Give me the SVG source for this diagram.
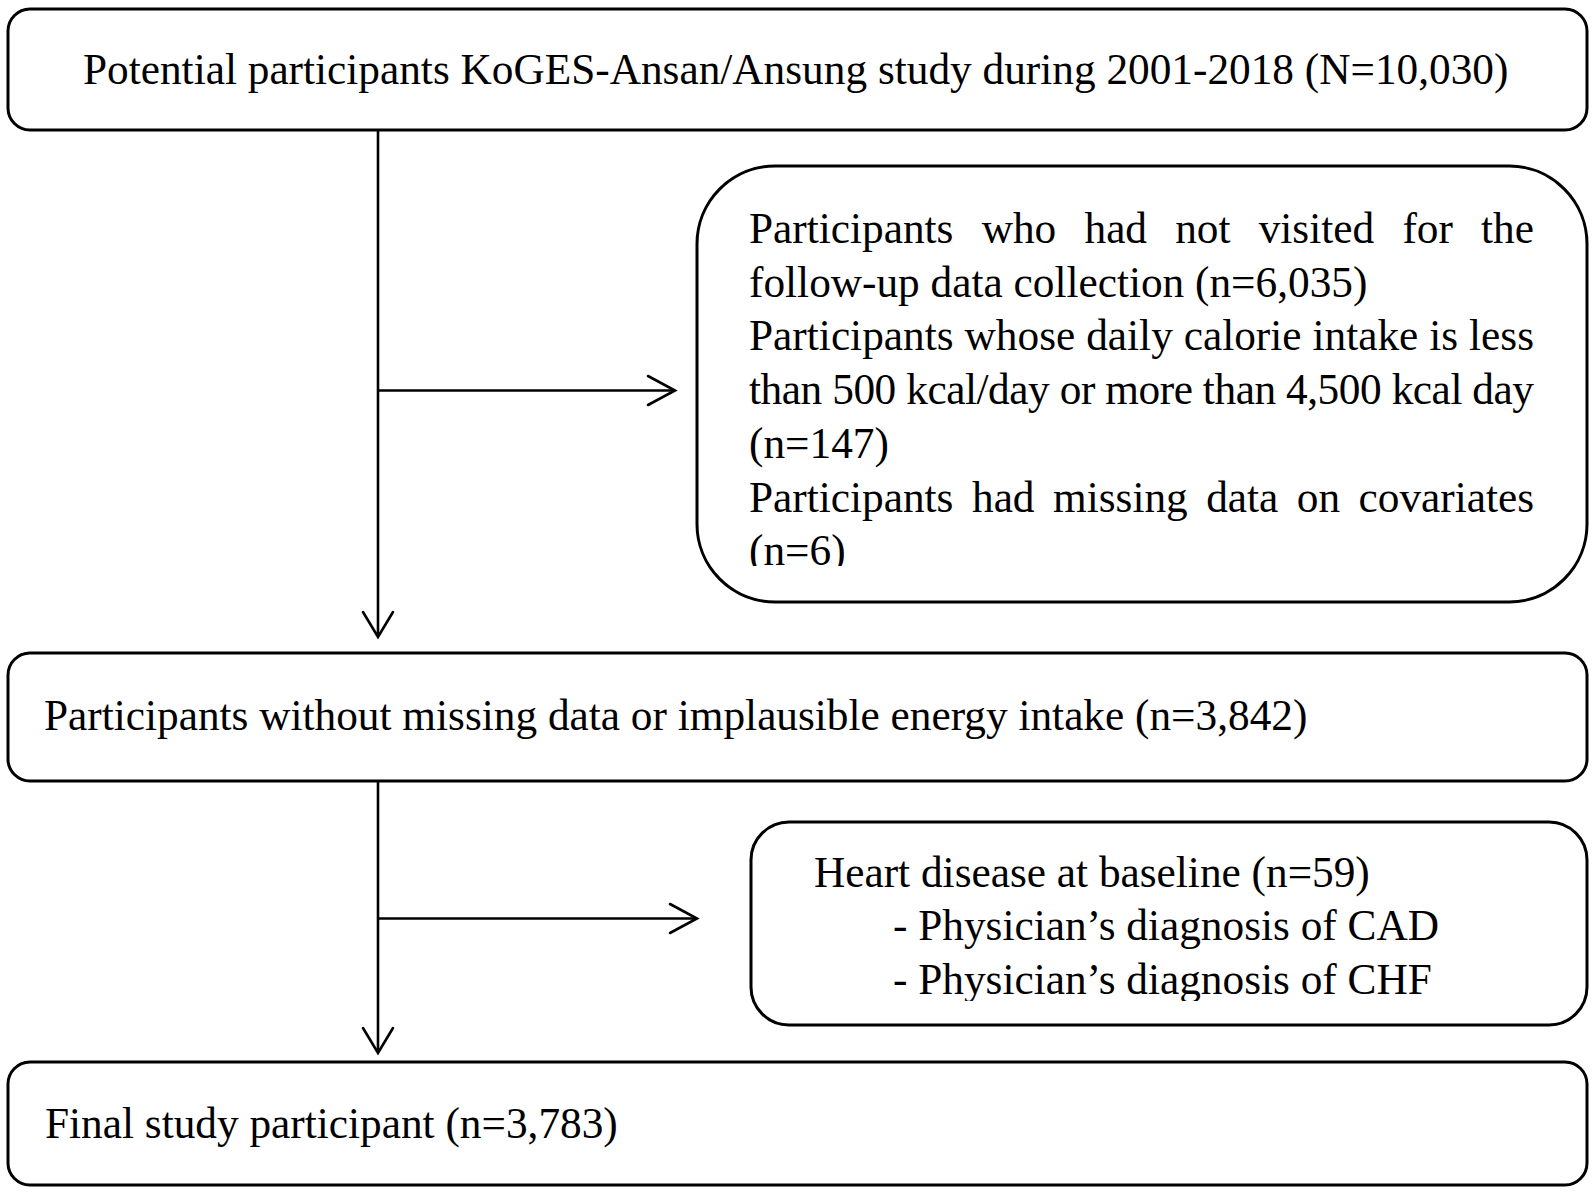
<svg xmlns="http://www.w3.org/2000/svg" width="1595" height="1195" viewBox="0 0 1595 1195">
<style>
.box{fill:#fff;stroke:#000;stroke-width:3}
.t{font-family:"Liberation Serif","Times New Roman",serif;font-size:43.3px;fill:#000}
.ln{stroke:#000;stroke-width:2.6;fill:none}
.ah{stroke:#000;stroke-width:2.6;fill:none;stroke-linecap:round;stroke-linejoin:miter}
</style>
<defs>
<clipPath id="c1"><rect x="690" y="160" width="900" height="406"/></clipPath>
<clipPath id="c2"><rect x="745" y="815" width="845" height="186"/></clipPath>
</defs>
<rect width="1595" height="1195" fill="#fff"/>
<g id="connectors">
<line class="ln" x1="378" y1="130" x2="378" y2="636"/>
<polyline class="ah" points="363,612 378,637 393,612"/>
<line class="ln" x1="378" y1="390.5" x2="675" y2="390.5"/>
<polyline class="ah" points="648,376 675,390.5 648,405"/>
<line class="ln" x1="378" y1="781" x2="378" y2="1052"/>
<polyline class="ah" points="363,1028 378,1053 393,1028"/>
<line class="ln" x1="378" y1="918.5" x2="697" y2="918.5"/>
<polyline class="ah" points="670,904 697,918.5 670,933"/>
</g>
<g id="n1">
<rect class="box" x="8" y="9" width="1579" height="121" rx="22"/>
<text class="t" x="83" y="84">Potential participants KoGES-Ansan/Ansung study during 2001-2018 (N=10,030)</text>
</g>
<g id="n2">
<rect class="box" x="697" y="166" width="890" height="436" rx="78"/>
<g clip-path="url(#c1)">
<text class="t" y="243"><tspan x="749">Participants</tspan><tspan x="981.7">who</tspan><tspan x="1084.5">had</tspan><tspan x="1175.2">not</tspan><tspan x="1258.7">visited</tspan><tspan x="1402.4">for</tspan><tspan x="1481.1">the</tspan></text>
<text class="t" x="749" y="297">follow-up data collection (n=6,035)</text>
<text class="t" x="749" y="350" textLength="785" lengthAdjust="spacing">Participants whose daily calorie intake is less</text>
<text class="t" x="749" y="404" textLength="785" lengthAdjust="spacing">than 500 kcal/day or more than 4,500 kcal day</text>
<text class="t" x="749" y="458">(n=147)</text>
<text class="t" y="511.5"><tspan x="749">Participants</tspan><tspan x="972">had</tspan><tspan x="1053">missing</tspan><tspan x="1206.2">data</tspan><tspan x="1296.8">on</tspan><tspan x="1358.6">covariates</tspan></text>
<text class="t" x="749" y="565">(n=6)</text>
</g>
</g>
<g id="n3">
<rect class="box" x="8" y="653" width="1579" height="128" rx="22"/>
<text class="t" x="44" y="730">Participants without missing data or implausible energy intake (n=3,842)</text>
</g>
<g id="n4">
<rect class="box" x="751" y="822" width="836" height="203" rx="38"/>
<g clip-path="url(#c2)">
<text class="t" x="814" y="887">Heart disease at baseline (n=59)</text>
<text class="t" x="893" y="940">- Physician’s diagnosis of CAD</text>
<text class="t" x="893" y="994">- Physician’s diagnosis of CHF</text>
</g>
</g>
<g id="n5">
<rect class="box" x="8" y="1062" width="1579" height="123" rx="22"/>
<text class="t" x="45" y="1138">Final study participant (n=3,783)</text>
</g>
</svg>
